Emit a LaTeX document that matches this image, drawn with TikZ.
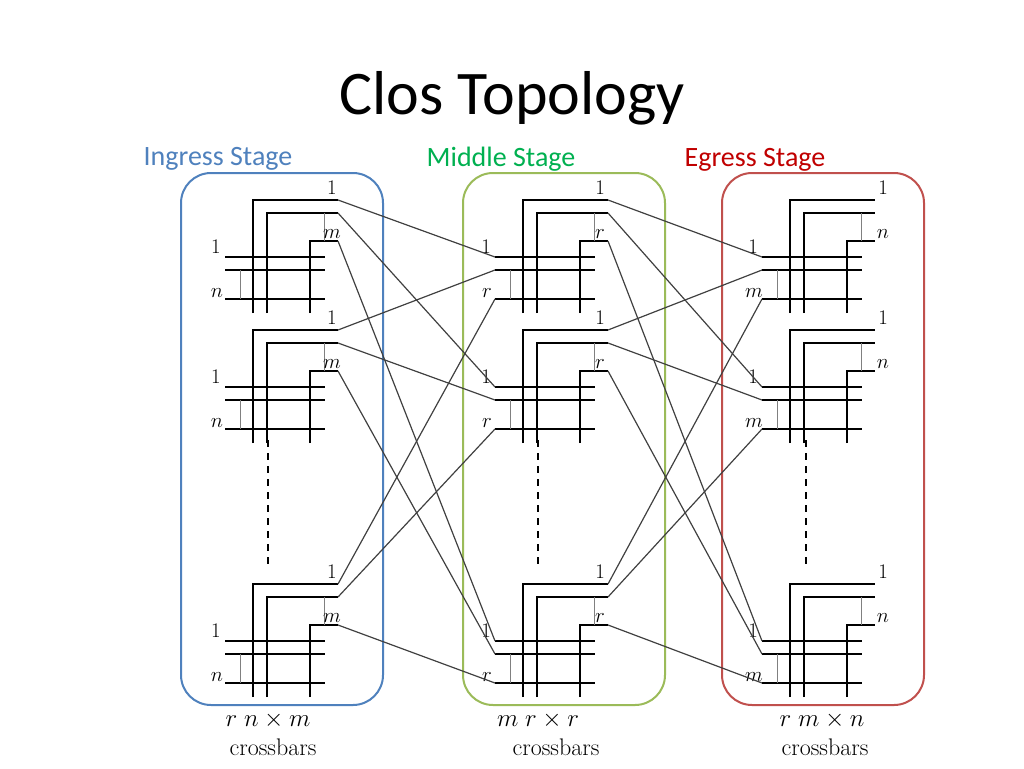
\documentclass[tikz,border=0pt]{standalone}
\usepackage{fontspec}
\newfontfamily\carlito{Carlito}
\usetikzlibrary{positioning}
\definecolor{ingblue}{HTML}{4F81BD}
\definecolor{midgreen}{HTML}{9BBB59}
\definecolor{egrred}{HTML}{C0504D}
\definecolor{midtxt}{HTML}{00B050}
\definecolor{egrtxt}{HTML}{C00000}
\tikzset{
  bar/.style={line width=1.8pt,black},
  tap/.style={line width=0.8pt,gray},
  wire/.style={line width=1.2pt,black!75},
  lbl/.style={font=\fontsize{20}{20}\selectfont,inner sep=0pt},
  stage/.style={line width=2pt,rounded corners=30pt},
  stagetxt/.style={font=\carlito\fontsize{28}{28}\selectfont},
  dim/.style={font=\fontsize{24}{24}\selectfont}
}
% one crossbar: name, ox, oy, input label, output label, output label shift
\newcommand\xbar[6]{%
  \draw[bar] (#2-113,#3+57) -- (#2-13,#3+57);
  \draw[bar] (#2-113,#3+70) -- (#2-13,#3+70);
  \draw[bar] (#2-113,#3+99) -- (#2-13,#3+99);
  \draw[bar] (#2-85,#3+113) -- (#2-85,#3) -- (#2,#3);
  \draw[bar] (#2-71,#3+113) -- (#2-71,#3+13) -- (#2,#3+13);
  \draw[bar] (#2-28,#3+113) -- (#2-28,#3+41) -- (#2,#3+41);
  \draw[tap] (#2-14,#3+13) -- (#2-14,#3+41);
  \draw[tap] (#2-98,#3+70) -- (#2-98,#3+99);
  \coordinate (#1i1) at (#2-113,#3+57);
  \coordinate (#1i2) at (#2-113,#3+70);
  \coordinate (#1i3) at (#2-113,#3+99);
  \coordinate (#1o1) at (#2,#3);
  \coordinate (#1o2) at (#2,#3+13);
  \coordinate (#1o3) at (#2,#3+41);
  \node[lbl] (#1l1) at (#2-122,#3+47) {$1$};
  \node[lbl] (#1l2) at (#2-121,#3+93) {$#4$};
  \node[lbl] (#1l3) at (#2+#6,#3-12) {$1$};
  \node[lbl] (#1l4) at (#2+#6,#3+34) {$#5$};
}
\begin{document}
\begin{tikzpicture}[x=1pt,y=-1pt]
\useasboundingbox (0,0) rectangle (1024,768);
\node[font=\carlito\fontsize{62}{62}\selectfont] (title) at (512,98) {Clos Topology};
\node[stagetxt,text=ingblue] (ingt) at (218,159) {Ingress Stage};
\node[stagetxt,text=midtxt] (midt) at (501,159) {Middle Stage};
\node[stagetxt,text=egrtxt] (egrt) at (755,160) {Egress Stage};
\draw[stage,ingblue] (181,173) rectangle (383,705);
\draw[stage,midgreen] (463,173) rectangle (665,705);
\draw[stage,egrred] (722,173) rectangle (924,705);
% crossbars
\foreach \b/\y in {1/200,2/330,3/584}{
  \xbar{a\b}{338}{\y}{n}{m}{-6}
  \xbar{b\b}{608}{\y}{r}{r}{-8}
  \xbar{c\b}{875}{\y}{m}{n}{8}
}
\foreach \x in {268,538,806}
  \draw[dash pattern=on 7pt off 6pt,line width=1.2pt] (\x,440) -- (\x,570);
% interconnect
\foreach \j in {1,2,3}
  \foreach \k in {1,2,3}{
    \draw[wire] (a\j o\k) -- (b\k i\j);
    \draw[wire] (b\j o\k) -- (c\k i\j);
  }
\node[dim] (ad) at (268,720) {$r\;n\times m$};
\node[dim] (ac) at (273,747) {crossbars};
\node[dim] (bd) at (538,720) {$m\;r\times r$};
\node[dim] (bc) at (556,747) {crossbars};
\node[dim] (cd) at (822,720) {$r\;m\times n$};
\node[dim] (cc) at (825,747) {crossbars};
\end{tikzpicture}
\end{document}
